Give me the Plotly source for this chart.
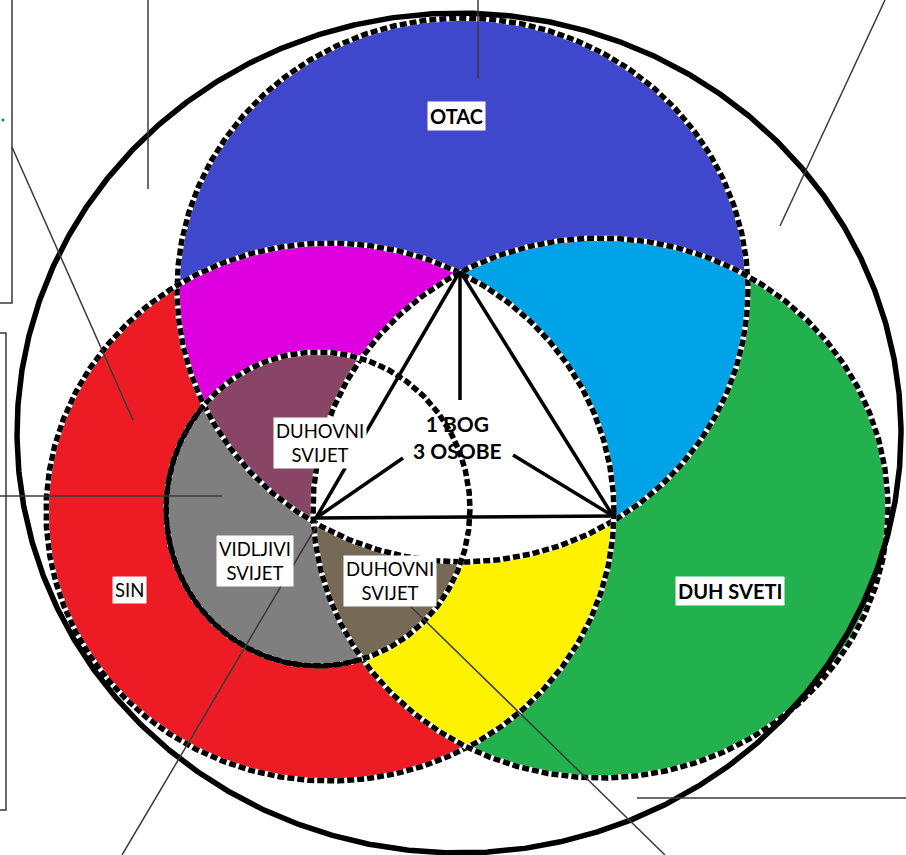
import numpy as np
import plotly.graph_objects as go

# ---------------- data ----------------
# ellipses: 0 OTAC, 1 SIN, 2 DUH SVETI, 3 inner (VIDLJIVI SVIJET), 4 outer
circle_names = ["OTAC", "SIN", "DUH SVETI", "VIDLJIVI SVIJET", "OUTER"]
circle_cx = [462.5, 330.0, 600.5, 318.0, 459.0]
circle_cy = [290.0, 512.0, 508.0, 509.0, 433.0]
circle_rx = [285.5, 284.0, 287.5, 152.0, 442.0]
circle_ry = [272.0, 269.0, 270.0, 157.0, 420.0]

# regions drawn in order: (sets intersected, colour)
region_sets = [[0], [1], [2], [0, 1], [0, 2], [1, 2], [0, 1, 2],
               [3, 1], [3, 0], [3, 2], [3, 0, 2]]
region_colors = ["#3F48CC", "#ED1C24", "#22B14C", "#DF00DF", "#00A2E8",
                 "#FFF200", "#FFFFFF", "#7F7F7F", "#884566", "#766A56", "#FFFFFF"]

# triangle (thick black lines)
tri_lines = [
    [(460, 271), (316, 518)],
    [(460, 271), (613, 516)],
    [(316, 518), (613, 516)],
    [(460, 271), (460, 400)],
    [(316, 518), (403, 458)],
    [(613, 516), (513, 455)],
]

# thin call-out lines
thin_lines = [
    [(148, 0), (148, 189)],
    [(12, 0), (12, 303), (0, 303)],
    [(12, 147), (133, 420)],
    [(0, 333), (6, 333), (6, 810), (0, 810)],
    [(0, 496), (222, 496)],
    [(122, 855), (316, 527)],
    [(407, 603), (665, 855)],
    [(637, 798), (906, 798)],
    [(885, 0), (780, 226)],
    [(478, 0), (478, 78)],
]

# labels
label_texts = ["<b>OTAC</b>", "<b>1 BOG<br>3 OSOBE</b>", "DUHOVNI<br>SVIJET",
               "VIDLJIVI<br>SVIJET", "DUHOVNI<br>SVIJET", "SIN", "<b>DUH SVETI</b>"]
label_x = [456, 457, 320, 255, 390, 129, 730]
label_y = [116, 437, 443, 561, 581, 590, 591]
label_size = [20, 21, 18.5, 18.5, 18.5, 18.5, 20]
label_bg = ["white", "rgba(0,0,0,0)", "white", "white", "white", "white", "white"]


# ---------------- geometry helpers ----------------
def ellipse(i, n=1440):
    t = np.linspace(0, 2 * np.pi, n, endpoint=False)
    return circle_cx[i] + circle_rx[i] * np.cos(t), circle_cy[i] + circle_ry[i] * np.sin(t)


def inside(i, x, y, eps=1e-9):
    return ((x - circle_cx[i]) / circle_rx[i]) ** 2 + ((y - circle_cy[i]) / circle_ry[i]) ** 2 <= 1 + eps


def intersection(ids):
    xs, ys = [], []
    for i in ids:
        x, y = ellipse(i)
        m = np.ones_like(x, dtype=bool)
        for j in ids:
            if j != i:
                m &= inside(j, x, y)
        xs.append(x[m])
        ys.append(y[m])
    x = np.concatenate(xs)
    y = np.concatenate(ys)
    cx, cy = x.mean(), y.mean()
    order = np.argsort(np.arctan2(y - cy, x - cx))
    x, y = x[order], y[order]
    return np.append(x, x[0]), np.append(y, y[0])


fig = go.Figure()

# fills
for ids, col in zip(region_sets, region_colors):
    x, y = intersection(ids)
    fig.add_trace(go.Scatter(x=x, y=y, mode="lines", fill="toself", fillcolor=col,
                             line=dict(width=0, color=col), hoverinfo="skip"))

# dotted outlines for the three persons and the inner circle
for i in [0, 1, 2, 3]:
    x, y = ellipse(i)
    x = np.append(x, x[0])
    y = np.append(y, y[0])
    fig.add_trace(go.Scatter(x=x, y=y, mode="lines", line=dict(color="white", width=5.5),
                             hoverinfo="skip"))
    fig.add_trace(go.Scatter(x=x, y=y, mode="lines",
                             line=dict(color="black", width=5.5, dash="7px,3px"),
                             hoverinfo="skip"))

# solid part of the inner circle (where it borders SIN only)
x, y = ellipse(3)
m = ~inside(0, x, y) & ~inside(2, x, y)
fig.add_trace(go.Scatter(x=x[m], y=y[m], mode="lines", line=dict(color="black", width=5),
                         hoverinfo="skip"))

# outer circle
x, y = ellipse(4)
fig.add_trace(go.Scatter(x=np.append(x, x[0]), y=np.append(y, y[0]), mode="lines",
                         line=dict(color="black", width=5.5), hoverinfo="skip"))

# triangle
for seg in tri_lines:
    fig.add_trace(go.Scatter(x=[p[0] for p in seg], y=[p[1] for p in seg], mode="lines",
                             line=dict(color="black", width=3.5), hoverinfo="skip"))

# thin lines
for seg in thin_lines:
    fig.add_trace(go.Scatter(x=[p[0] for p in seg], y=[p[1] for p in seg], mode="lines",
                             line=dict(color="#3a3a3a", width=1.5), hoverinfo="skip"))

# small blue dot at the left margin
fig.add_trace(go.Scatter(x=[3], y=[120], mode="markers",
                         marker=dict(color="#1f6fc0", size=3), hoverinfo="skip"))

for t, xx, yy, s, bg in zip(label_texts, label_x, label_y, label_size, label_bg):
    fig.add_annotation(x=xx, y=yy, text=t, showarrow=False, xref="x", yref="y",
                       font=dict(family="Lato, Arial, sans-serif", size=s, color="black"),
                       bgcolor=bg, borderpad=2, align="center")

fig.update_layout(
    width=906, height=855, margin=dict(l=0, r=0, t=0, b=0),
    paper_bgcolor="white", plot_bgcolor="white", showlegend=False,
    xaxis=dict(range=[0, 906], visible=False, fixedrange=True),
    yaxis=dict(range=[855, 0], visible=False, fixedrange=True),
)

fig.write_html("out.html", config={"displayModeBar": False},
               post_script="document.body.style.margin='0';document.body.style.overflow='hidden';")
